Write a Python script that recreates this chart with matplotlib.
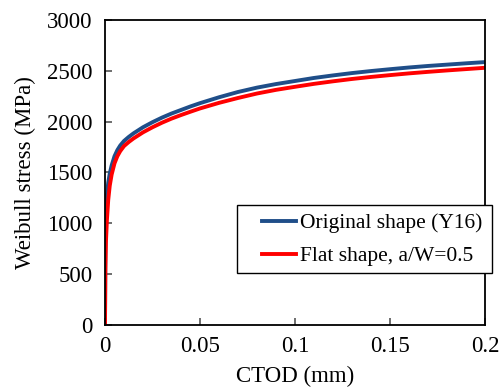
import numpy as np
import matplotlib
matplotlib.use("Agg")
import matplotlib.pyplot as plt
from matplotlib.patches import Rectangle

# values
ctod = [0, 0.0002, 0.0005, 0.001, 0.0017, 0.0025, 0.0035, 0.005, 0.0065, 0.008,
        0.01, 0.0125, 0.015, 0.0175, 0.02, 0.025, 0.03, 0.035, 0.04, 0.045,
        0.05, 0.06, 0.07, 0.08, 0.09, 0.1, 0.11, 0.12, 0.13, 0.14,
        0.15, 0.16, 0.17, 0.18, 0.19, 0.2]
sw_original = [0, 900, 1130, 1280, 1400, 1490, 1570, 1660, 1720, 1765,
               1810, 1850, 1885, 1915, 1945, 1995, 2040, 2080, 2115, 2150,
               2182, 2240, 2292, 2335, 2370, 2400, 2430, 2455, 2478, 2498,
               2516, 2533, 2548, 2561, 2574, 2586]
sw_flat = [0, 550, 820, 1030, 1230, 1370, 1480, 1590, 1660, 1710,
           1760, 1800, 1835, 1865, 1895, 1945, 1990, 2030, 2065, 2098,
           2130, 2185, 2233, 2277, 2313, 2343, 2372, 2397, 2420, 2440,
           2458, 2475, 2490, 2504, 2517, 2530]

xticks = [0, 0.05, 0.1, 0.15, 0.2]
xticklabels = ['0', '0.05', '0.1', '0.15', '0.2']
yticks = [0, 500, 1000, 1500, 2000, 2500, 3000]

plt.rcParams['font.family'] = ['Liberation Serif', 'DejaVu Serif']

fig = plt.figure(figsize=(5.0, 3.9), dpi=100)
ax = fig.add_axes([0.21, 0.1667, 0.76, 0.782])

ax.plot(ctod, sw_original, color='#1f4e89', lw=2.8, label='Original shape (Y16)')
ax.plot(ctod, sw_flat, color='#ff0000', lw=2.8, label='Flat shape, a/W=0.5')

ax.set_xlim(0, 0.2)
ax.set_ylim(0, 3000)
ax.set_xticks(xticks)
ax.set_xticklabels(xticklabels)
ax.set_yticks(yticks)
ax.tick_params(direction='in', length=5, width=1.2, color='#555555',
               labelsize=16.5)
ax.tick_params(axis='y', pad=9)
ax.tick_params(axis='x', pad=8)
for s in ax.spines.values():
    s.set_linewidth(1.3)
    s.set_color('black')

ax.set_xlabel('CTOD (mm)', fontsize=16.5, labelpad=6)
ax.set_ylabel('Weibull stress (MPa)', fontsize=16.5, labelpad=8)

# legend frame drawn separately (it sticks out past the right spine)
ax.add_patch(Rectangle((0.347, 0.170), 0.671, 0.223, transform=ax.transAxes,
                       facecolor='white', edgecolor='black', lw=1.0,
                       clip_on=False, zorder=4))
leg = ax.legend(loc='center left', bbox_to_anchor=(0.413, 0.280), fontsize=15.5,
                frameon=False, handlelength=1.6, handletextpad=0.15,
                borderpad=0, labelspacing=0.6, borderaxespad=0)
leg.set_zorder(5)

fig.savefig('out.png', dpi=100)
